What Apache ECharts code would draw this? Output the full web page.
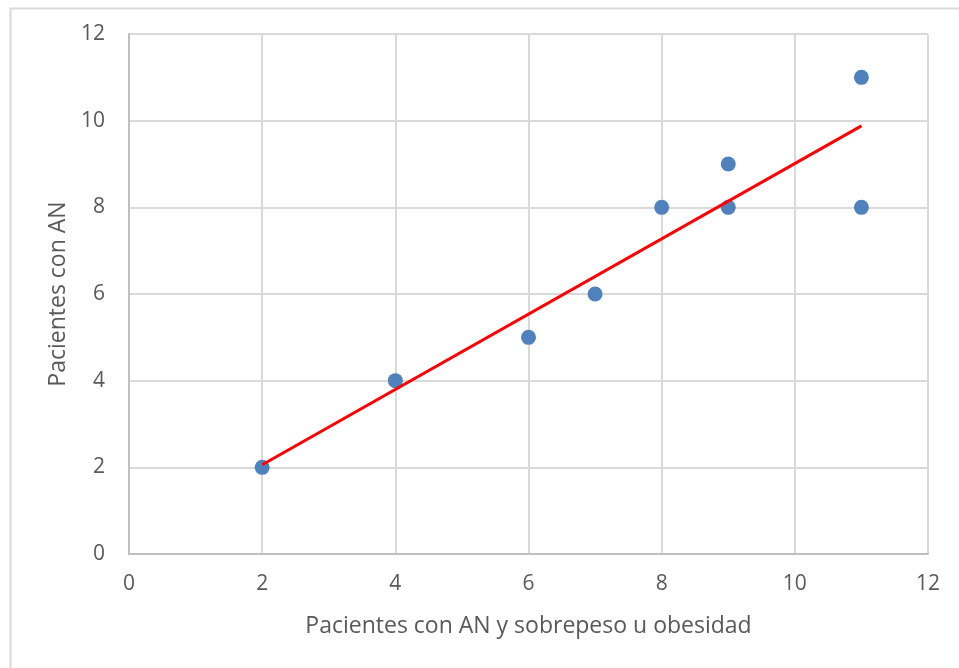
<!DOCTYPE html>
<html>
<head>
<meta charset="utf-8">
<script src="https://cdn.jsdelivr.net/npm/echarts@6/dist/echarts.min.js"></script>
<style>html,body{margin:0;padding:0;background:#fff}#c{width:959px;height:668px}</style>
</head>
<body>
<div id="c"></div>
<script>
const xTitle = 'Pacientes con AN y sobrepeso u obesidad';
const yTitle = 'Pacientes con AN';
const xValues = [2, 4, 6, 7, 8, 9, 9, 11, 11];
const yValues = [2, 4, 5, 6, 8, 9, 8, 11, 8];
const trendX = [2, 11];
const trendY = [2.06, 9.88];

const chart = echarts.init(document.getElementById('c'), null, {renderer: 'canvas'});
const font = '"Open Sans", "Noto Sans", sans-serif';
chart.setOption({
  animation: false,
  backgroundColor: '#fff',
  graphic: [{
    type: 'rect', left: 8, top: 6,
    shape: {width: 960, height: 670},
    style: {fill: 'none', stroke: '#d9d9d9', lineWidth: 2}
  }],
  grid: {left: 129, right: 31, top: 34, bottom: 114, containLabel: false},
  xAxis: {
    type: 'value', min: 0, max: 12, interval: 2,
    name: xTitle, nameLocation: 'middle', nameGap: 61,
    nameTextStyle: {color: '#595959', fontSize: 23, fontFamily: font},
    axisLine: {show: true, lineStyle: {color: '#bfbfbf', width: 2}},
    axisTick: {show: false},
    axisLabel: {color: '#595959', fontSize: 21, fontFamily: font, margin: 20},
    splitLine: {show: true, lineStyle: {color: '#d9d9d9', width: 2}}
  },
  yAxis: {
    type: 'value', min: 0, max: 12, interval: 2,
    name: yTitle, nameLocation: 'middle', nameGap: 56,
    nameTextStyle: {color: '#595959', fontSize: 23, fontFamily: font},
    axisLine: {show: true, lineStyle: {color: '#bfbfbf', width: 2}},
    axisTick: {show: false},
    axisLabel: {color: '#595959', fontSize: 21, fontFamily: font, margin: 24},
    splitLine: {show: true, lineStyle: {color: '#d9d9d9', width: 2}}
  },
  series: [
    {
      type: 'line',
      data: trendX.map((x, i) => [x, trendY[i]]),
      showSymbol: false, symbol: 'none',
      lineStyle: {color: '#ff0000', width: 3},
      z: 3
    },
    {
      type: 'scatter',
      data: xValues.map((x, i) => [x, yValues[i]]),
      symbol: 'circle', symbolSize: 15,
      itemStyle: {color: '#4f81bd', opacity: 1},
      z: 2
    }
  ]
});
</script>
</body>
</html>
